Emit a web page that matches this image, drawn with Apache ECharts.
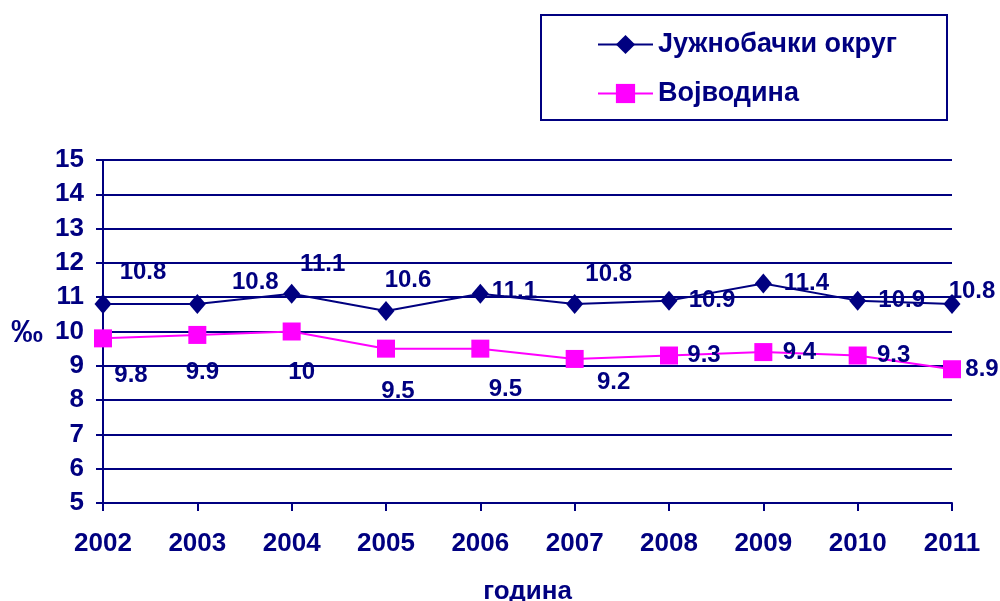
<!DOCTYPE html>
<html>
<head>
<meta charset="utf-8">
<script src="https://cdn.jsdelivr.net/npm/echarts@6/dist/echarts.min.js"></script>
<style>
  html, body { margin: 0; padding: 0; background: #fff; }
  #main { width: 1000px; height: 601px; }
</style>
</head>
<body>
<div id="main"></div>
<script>
var years = ["2002", "2003", "2004", "2005", "2006", "2007", "2008", "2009", "2010", "2011"];
var juznobacki = [10.8, 10.8, 11.1, 10.6, 11.1, 10.8, 10.9, 11.4, 10.9, 10.8];
var vojvodina = [9.8, 9.9, 10, 9.5, 9.5, 9.2, 9.3, 9.4, 9.3, 8.9];

// label offsets (px, relative to the marker), moved by hand like in the original
var offsetsA = [[40, -32], [58, -22], [31, -29], [22, -31], [34, -2], [34, -30], [43, 0], [43, 0], [44, 0], [20, -13]];
var offsetsB = [[28, 37], [5, 37], [10, 41], [12, 43], [25, 41], [39, 23], [35, 0], [36, 0], [36, 0], [30, 0]];

var navy = "#000080";
var pink = "#ff00ff";
var font = "Liberation Sans";

function withLabels(values, offsets) {
  return values.map(function (v, i) {
    return { value: v, label: { offset: offsets[i] } };
  });
}

var chartDom = document.getElementById("main");
var myChart = echarts.init(chartDom);
var option;

option = {
  animation: false,
  textStyle: { fontFamily: font },
  grid: { left: 103, right: 48, top: 160, bottom: 98, outerBoundsMode: "none" },
  graphic: [
    {
      type: "rect",
      shape: { x: 541, y: 15, width: 406, height: 105 },
      style: { fill: "#fff", stroke: navy, lineWidth: 2 },
      z: -1
    },
    {
      type: "text",
      left: 11,
      top: 317,
      style: { text: "‰", fill: navy, font: "bold 32px Liberation Sans" }
    }
  ],
  legend: {
    orient: "vertical",
    left: 597,
    top: 31,
    padding: 0,
    itemWidth: 55,
    itemHeight: 24,
    itemGap: 22,
    textStyle: { color: navy, fontSize: 27, lineHeight: 24, fontWeight: "bold", fontFamily: font },
    data: ["Јужнобачки округ", "Војводина"]
  },
  xAxis: {
    type: "category",
    data: years,
    boundaryGap: false,
    name: "година",
    nameLocation: "middle",
    nameGap: 76,
    nameTextStyle: { color: navy, fontSize: 26, fontWeight: "bold" },
    axisLine: { lineStyle: { color: navy, width: 2 } },
    axisTick: { show: true, length: 8, lineStyle: { color: navy, width: 2 } },
    axisLabel: { color: navy, fontSize: 26, fontWeight: "bold", margin: 28 }
  },
  yAxis: {
    type: "value",
    min: 5,
    max: 15,
    interval: 1,
    axisLine: { show: true, lineStyle: { color: navy, width: 2 } },
    axisTick: { show: true, length: 7, lineStyle: { color: navy, width: 2 } },
    splitLine: { lineStyle: { color: navy, width: 2 } },
    axisLabel: { color: navy, fontSize: 26, fontWeight: "bold", margin: 19 }
  },
  series: [
    {
      name: "Јужнобачки округ",
      type: "line",
      data: withLabels(juznobacki, offsetsA),
      symbol: "diamond",
      symbolSize: [17, 20],
      lineStyle: { color: navy, width: 2 },
      itemStyle: { color: navy },
      label: {
        show: true,
        position: "inside",
        color: navy,
        fontSize: 24,
        fontWeight: "bold",
        fontFamily: font
      },
      z: 3
    },
    {
      name: "Војводина",
      type: "line",
      data: withLabels(vojvodina, offsetsB),
      symbol: "rect",
      symbolSize: 18,
      lineStyle: { color: pink, width: 2 },
      itemStyle: { color: pink },
      label: {
        show: true,
        position: "inside",
        color: navy,
        fontSize: 24,
        fontWeight: "bold",
        fontFamily: font
      },
      z: 2
    }
  ]
};

option && myChart.setOption(option);
</script>
</body>
</html>
